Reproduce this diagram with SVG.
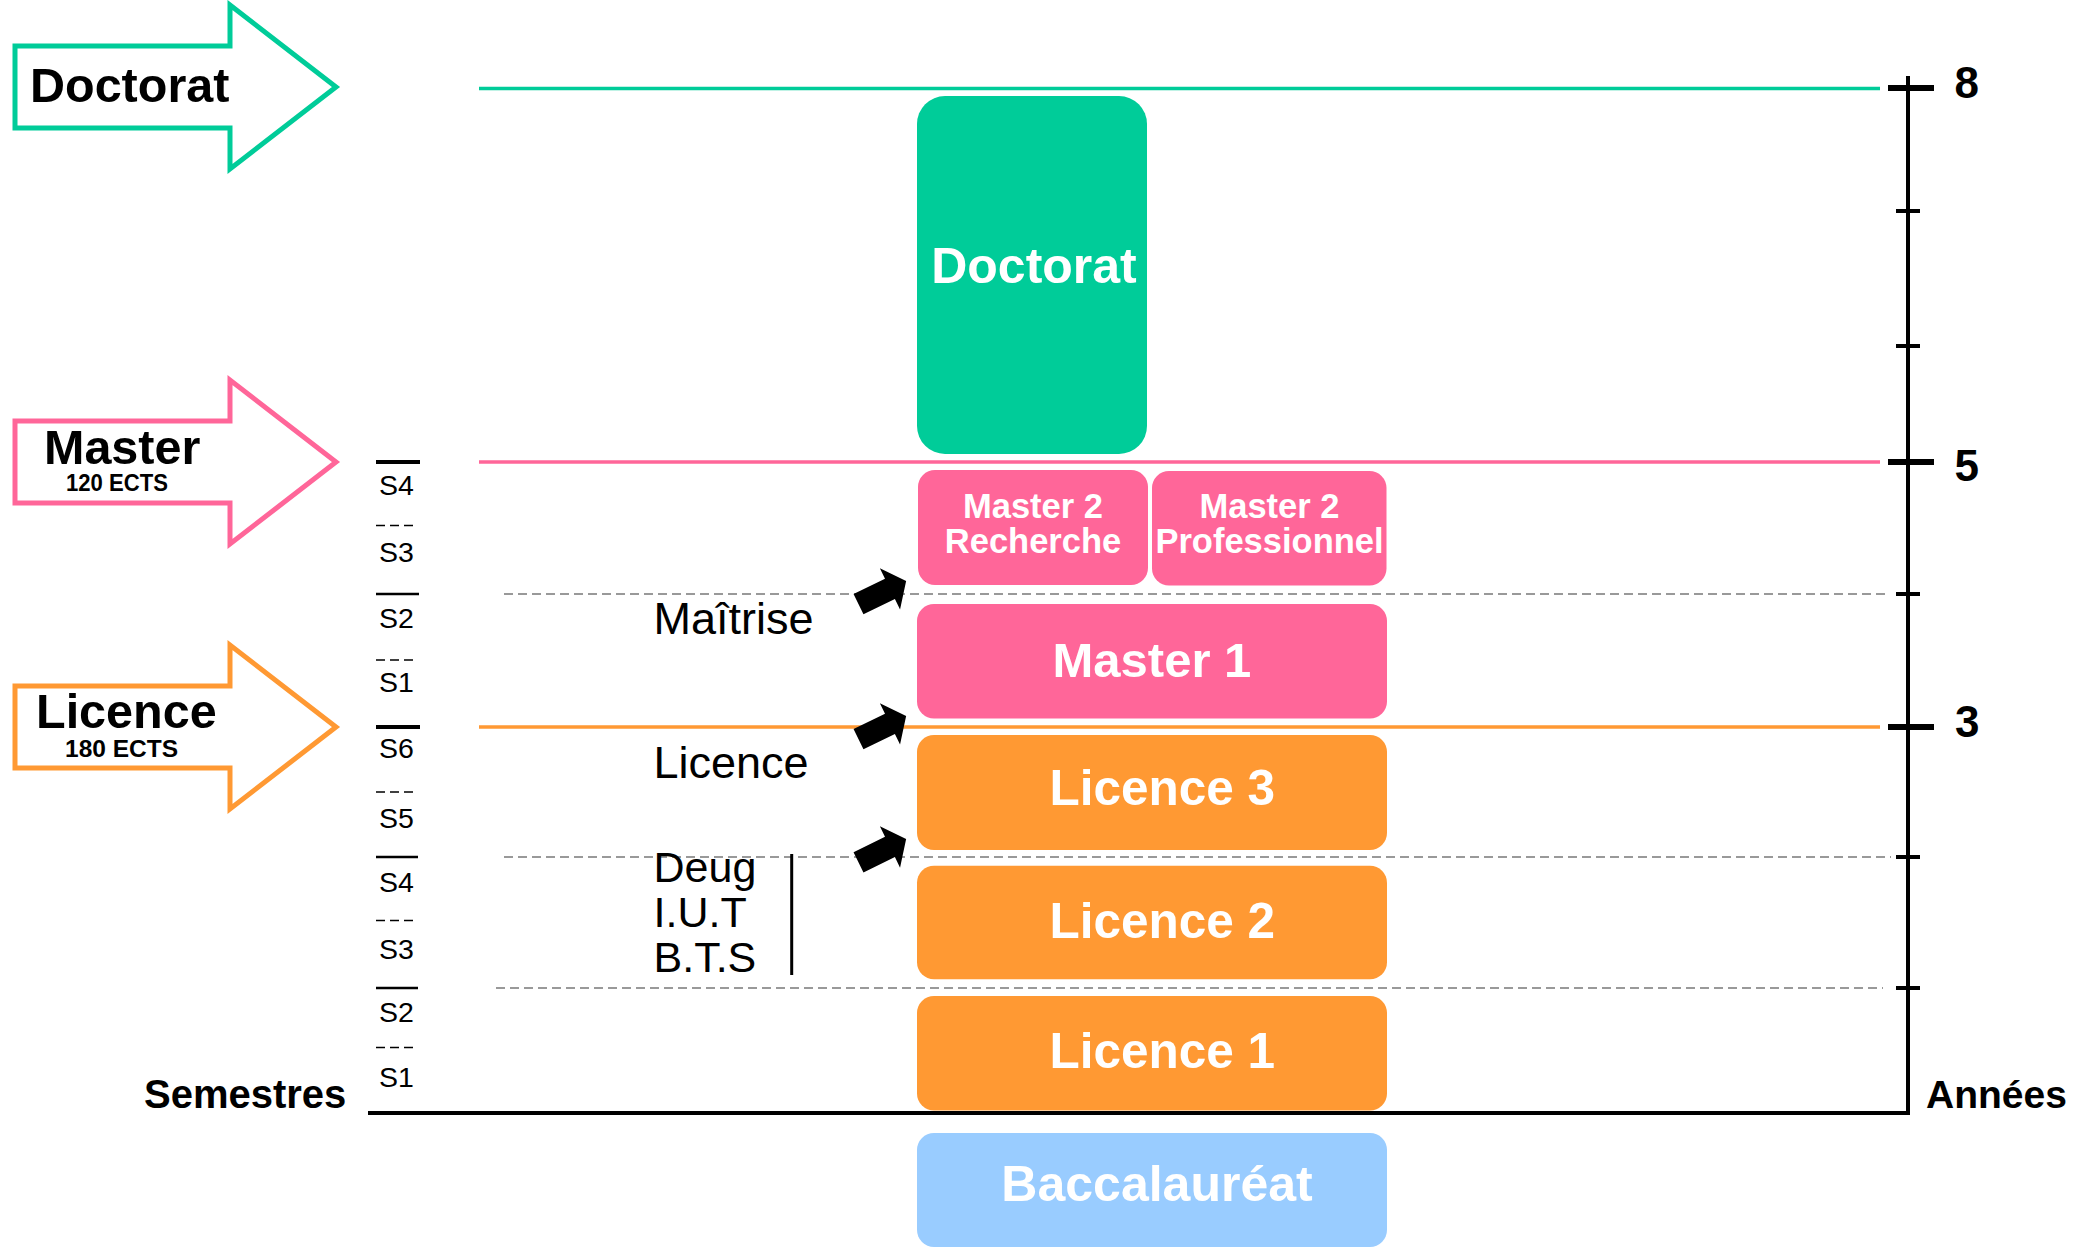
<svg xmlns="http://www.w3.org/2000/svg" width="2100" height="1250" viewBox="0 0 2100 1250">
<defs>
<style>
text{font-family:"Liberation Sans",Arial,sans-serif;}
.b{font-weight:bold;}
.wt{fill:#fff;font-weight:bold;}
.big{font-size:48.5px;font-weight:bold;fill:#000;}
.sem{font-size:28.5px;fill:#000;}
.lbl{font-size:45px;fill:#000;}
.lbs{font-size:43px;fill:#000;}
.yr{font-size:44px;font-weight:bold;fill:#000;}
.hlab{fill:none;stroke-width:5;stroke-linejoin:miter;}
.lvl{stroke-width:3.5;fill:none;}
.gd{stroke:#999;stroke-width:2;stroke-dasharray:9 5;fill:none;}
.sl{stroke:#000;stroke-width:2.5;}
.slt{stroke:#000;stroke-width:4;}
.sd{stroke:#000;stroke-width:1.5;stroke-dasharray:9 5;}
.tk{stroke:#000;stroke-width:4;}
.tkb{stroke:#000;stroke-width:6;}
.teal{fill:#00CC99;}
.pink{fill:#FF6699;}
.orange{fill:#FF9933;}
.blue{fill:#99CCFF;}
</style>
<path id="blk" d="M0,-11.3 L35,-11.3 L35,-23 L53,0 L35,23 L35,11.3 L0,11.3 Z" fill="#000"/>
</defs>
<rect width="2100" height="1250" fill="#fff"/>

<!-- level lines -->
<g id="levels">
<line x1="479" y1="88.5" x2="1880" y2="88.5" class="lvl" stroke="#00CC99"/>
<line x1="479" y1="462" x2="1880" y2="462" class="lvl" stroke="#FF6699"/>
<line x1="479" y1="727" x2="1880" y2="727" class="lvl" stroke="#FF9933"/>
<line x1="504" y1="594" x2="1890" y2="594" class="gd"/>
<line x1="504" y1="857" x2="1891" y2="857" class="gd"/>
<line x1="496" y1="988" x2="1883" y2="988" class="gd"/>
</g>

<!-- axes -->
<g id="axes">
<line x1="1908" y1="76" x2="1908" y2="1113" stroke="#000" stroke-width="4"/>
<line x1="368" y1="1113" x2="1910" y2="1113" stroke="#000" stroke-width="4"/>
<line x1="1888" y1="88" x2="1934" y2="88" class="tkb"/>
<line x1="1888" y1="462" x2="1934" y2="462" class="tkb"/>
<line x1="1888" y1="727" x2="1934" y2="727" class="tkb"/>
<line x1="1896" y1="211" x2="1920" y2="211" class="tk"/>
<line x1="1896" y1="346" x2="1920" y2="346" class="tk"/>
<line x1="1896" y1="594" x2="1920" y2="594" class="tk"/>
<line x1="1896" y1="857" x2="1920" y2="857" class="tk"/>
<line x1="1896" y1="988" x2="1920" y2="988" class="tk"/>
<text x="1954.5" y="98" class="yr">8</text>
<text x="1954.5" y="481" class="yr">5</text>
<text x="1955" y="737" class="yr">3</text>
<text x="1926" y="1108" class="b" font-size="39">Années</text>
<text x="144" y="1108" class="b" font-size="40">Semestres</text>
</g>

<!-- semesters -->
<g id="semesters">
<line x1="376" y1="462" x2="420" y2="462" class="slt"/>
<line x1="376" y1="525.5" x2="416" y2="525.5" class="sd"/>
<line x1="376" y1="594" x2="419" y2="594" class="sl"/>
<line x1="376" y1="660" x2="416" y2="660" class="sd"/>
<line x1="376" y1="727" x2="420" y2="727" class="slt"/>
<line x1="376" y1="792" x2="416" y2="792" class="sd"/>
<line x1="376" y1="857" x2="418" y2="857" class="sl"/>
<line x1="376" y1="920.5" x2="416" y2="920.5" class="sd"/>
<line x1="376" y1="988" x2="418" y2="988" class="sl"/>
<line x1="376" y1="1047.5" x2="416" y2="1047.5" class="sd"/>
<text x="379" y="494.5" class="sem">S4</text>
<text x="379" y="562" class="sem">S3</text>
<text x="379" y="628" class="sem">S2</text>
<text x="379" y="692" class="sem">S1</text>
<text x="379" y="757.5" class="sem">S6</text>
<text x="379" y="828" class="sem">S5</text>
<text x="379" y="892" class="sem">S4</text>
<text x="379" y="958.5" class="sem">S3</text>
<text x="379" y="1022" class="sem">S2</text>
<text x="379" y="1087" class="sem">S1</text>
</g>

<!-- left headline arrows -->
<g id="arrow-doctorat">
<path d="M15,46 L230,46 L230,5 L336,87 L230,169 L230,128 L15,128 Z" class="hlab" stroke="#00CC99"/>
<text x="30" y="101.5" class="big">Doctorat</text>
</g>
<g id="arrow-master">
<path d="M15,421 L230,421 L230,380 L336,462 L230,544 L230,503 L15,503 Z" class="hlab" stroke="#FF6699"/>
<text x="44" y="464" class="big">Master</text>
<text x="66" y="491" class="b" font-size="23" textLength="102" lengthAdjust="spacingAndGlyphs">120 ECTS</text>
</g>
<g id="arrow-licence">
<path d="M15,686 L230,686 L230,645 L336,727 L230,809 L230,768 L15,768 Z" class="hlab" stroke="#FF9933"/>
<text x="36" y="727.5" class="big">Licence</text>
<text x="65" y="756.5" class="b" font-size="24.5">180 ECTS</text>
</g>

<!-- old diplomas -->
<g id="old-diplomas">
<text x="653.5" y="634" class="lbl">Maîtrise</text>
<text x="653.5" y="777.5" class="lbl">Licence</text>
<text x="653.5" y="882" class="lbs">Deug</text>
<text x="653.5" y="927" class="lbs">I.U.T</text>
<text x="653.5" y="972" class="lbs">B.T.S</text>
<line x1="791.7" y1="854" x2="791.7" y2="975" stroke="#000" stroke-width="3"/>
</g>

<!-- nodes -->
<g id="node-doctorat">
<rect x="917" y="96" width="230" height="358" rx="28" class="teal"/>
<text x="1034" y="283" class="wt" font-size="50" text-anchor="middle">Doctorat</text>
</g>
<g id="node-m2r">
<rect x="918" y="470" width="230" height="115" rx="17" class="pink"/>
<text x="1033" y="518" class="wt" font-size="34.5" text-anchor="middle">Master 2</text>
<text x="1033" y="553" class="wt" font-size="34.5" text-anchor="middle">Recherche</text>
</g>
<g id="node-m2p">
<rect x="1152" y="471" width="234.5" height="114.5" rx="17" class="pink"/>
<text x="1269.5" y="518" class="wt" font-size="34.5" text-anchor="middle">Master 2</text>
<text x="1269.5" y="553" class="wt" font-size="34.5" text-anchor="middle">Professionnel</text>
</g>
<g id="node-m1">
<rect x="917" y="604" width="470" height="114.5" rx="17" class="pink"/>
<text x="1052.5" y="677" class="wt" font-size="49">Master 1</text>
</g>
<g id="node-l3">
<rect x="917" y="735" width="470" height="115" rx="17" class="orange"/>
<text x="1049.5" y="804.5" class="wt" font-size="49.5">Licence 3</text>
</g>
<g id="node-l2">
<rect x="917" y="865.7" width="470" height="113.6" rx="17" class="orange"/>
<text x="1049.5" y="938" class="wt" font-size="49.5">Licence 2</text>
</g>
<g id="node-l1">
<rect x="917" y="996" width="470" height="114.6" rx="17" class="orange"/>
<text x="1049.5" y="1067.5" class="wt" font-size="49.5">Licence 1</text>
</g>
<g id="node-bac">
<rect x="917" y="1133" width="470" height="114" rx="17" class="blue"/>
<text x="1157" y="1201" class="wt" font-size="50" text-anchor="middle">Baccalauréat</text>
</g>

<!-- connectors -->
<g id="connectors">
<use href="#blk" transform="translate(858.5,604.2) rotate(-26)"/>
<use href="#blk" transform="translate(858.5,739.2) rotate(-26)"/>
<use href="#blk" transform="translate(858.5,862.3) rotate(-26)"/>
</g>
</svg>
